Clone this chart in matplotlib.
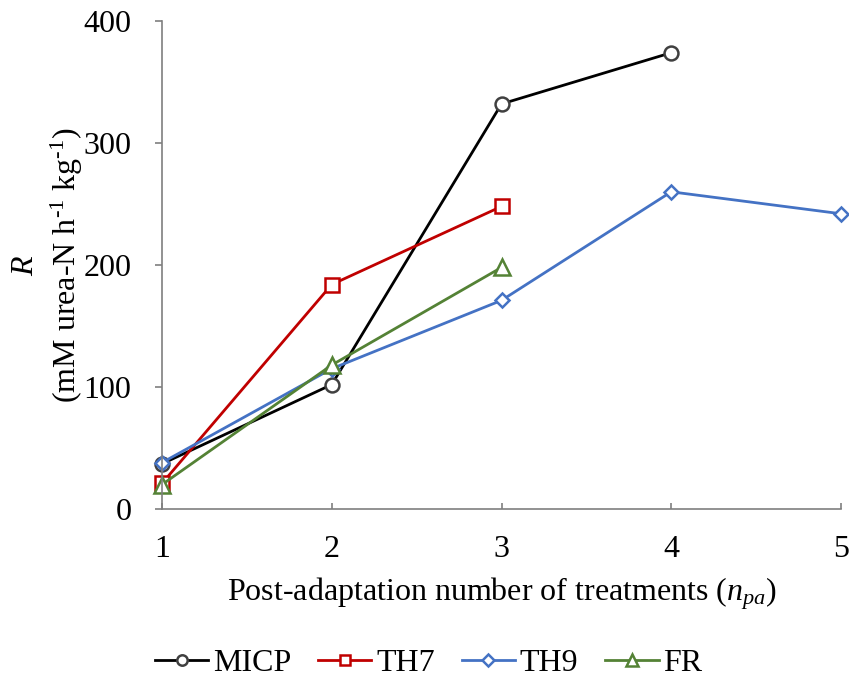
import matplotlib
matplotlib.use("Agg")
import matplotlib.pyplot as plt

plt.rcParams['font.family'] = ['Liberation Serif', 'DejaVu Serif']
plt.rcParams['mathtext.fontset'] = 'custom'
plt.rcParams['mathtext.rm'] = 'Liberation Serif'
plt.rcParams['mathtext.it'] = 'Liberation Serif:italic'

micp_x = [1, 2, 3, 4]
micp_y = [37, 102, 332, 374]
th7_x = [1, 2, 3]
th7_y = [21, 184, 248]
th9_x = [1, 2, 3, 4, 5]
th9_y = [38, 115, 171, 260, 242]
fr_x = [1, 2, 3]
fr_y = [20, 118, 198]

xticks = [1, 2, 3, 4, 5]
yticks = [0, 100, 200, 300, 400]

FS = 23

fig = plt.figure(figsize=(8.49, 6.84), dpi=100)
ax = fig.add_axes([162/849, (684-509)/684, (841-162)/849, (509-21)/684])

ms = 10
mew = 1.8
lw = 2.0
ax.plot(micp_x, micp_y, color='black', lw=lw, marker='o', ms=ms, mfc='white',
        mec='#404040', mew=mew, label='MICP')
ax.plot(th7_x, th7_y, color='#C00000', lw=lw, marker='s', ms=ms, mfc='white',
        mec='#C00000', mew=mew, label='TH7')
ax.plot(th9_x, th9_y, color='#4472C4', lw=lw, marker='D', ms=7.5, mfc='white',
        mec='#4472C4', mew=mew, label='TH9')
ax.plot(fr_x, fr_y, color='#548235', lw=lw, marker='^', ms=ms+1, mfc='white',
        mec='#548235', mew=mew, label='FR')

ax.set_xlim(1, 5)
ax.set_ylim(0, 400)
ax.set_xticks(xticks)
ax.set_yticks(yticks)
ax.spines['top'].set_visible(False)
ax.spines['right'].set_visible(False)
for s in ['left', 'bottom']:
    ax.spines[s].set_color('#7f7f7f')
    ax.spines[s].set_linewidth(1.2)
ax.tick_params(axis='y', direction='out', length=5, width=1.2, color='#7f7f7f',
               labelsize=FS, pad=17)
ax.tick_params(axis='x', direction='in', length=4, width=1.2, color='#7f7f7f',
               labelsize=FS, pad=19)

ax.set_xlabel('Post-adaptation number of treatments ($n_{pa}$)', fontsize=FS, labelpad=8)
ax.set_ylabel('$\\it{R}$\n(mM urea-N h$^{\\text{-1}}$ kg$^{\\text{-1}}$)', fontsize=FS,
              labelpad=-1, linespacing=1.3)
for l in ax.lines:
    l.set_clip_on(False)

fig.legend(loc='center', bbox_to_anchor=(0.505, 1 - 663/684), ncol=4, frameon=False,
           fontsize=FS, handlelength=1.66, columnspacing=0.85, handletextpad=0.15,
           markerscale=0.75)

fig.savefig('out.png', dpi=100)
